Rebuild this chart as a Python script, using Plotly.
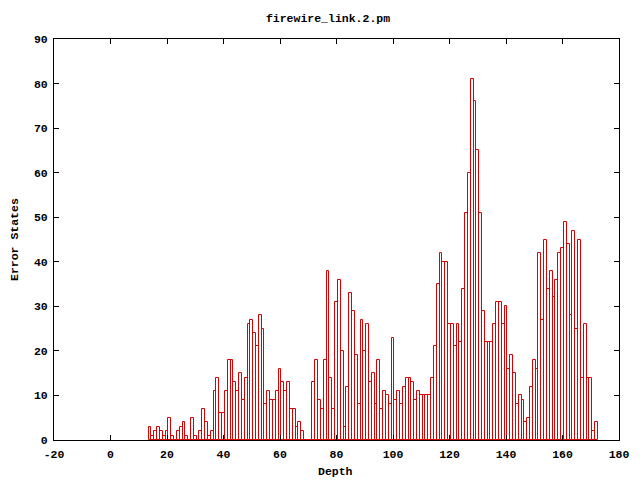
import plotly.graph_objects as go

title_text = "firewire_link.2.pm"
x_label = "Depth"
y_label = "Error States"

depth = list(range(14, 173))
error_states = [
    3, 1, 2, 3, 2, 1, 2, 5, 1, 0, 2, 3, 4, 1, 0, 5, 1, 0, 2, 7,          # 14-33
    4, 1, 2, 11, 14, 6, 6, 11, 18, 18, 13, 11, 15, 9, 14, 26, 27, 24, 21, 28,  # 34-53
    25, 8, 11, 9, 9, 11, 16, 13, 11, 13, 7, 7, 3, 4, 2, 0, 0, 0, 13, 18,     # 54-73
    9, 7, 18, 38, 14, 7, 31, 36, 20, 3, 12, 33, 29, 19, 8, 27, 20, 26, 13, 15,  # 74-93
    8, 18, 7, 11, 10, 8, 23, 9, 11, 8, 12, 14, 14, 13, 9, 11, 10, 10, 10, 10,   # 94-113
    14, 21, 35, 42, 40, 40, 26, 26, 21, 26, 22, 34, 51, 60, 81, 76, 65, 51, 29, 22,  # 114-133
    22, 22, 26, 31, 31, 26, 30, 16, 19, 15, 8, 10, 9, 4, 5, 12, 18, 16, 42, 27,  # 134-153
    45, 34, 38, 32, 36, 42, 43, 49, 44, 28, 47, 25, 45, 14, 26, 14, 14, 2, 4,   # 154-172
]

x_ticks = [-20, 0, 20, 40, 60, 80, 100, 120, 140, 160, 180]
y_ticks = [0, 10, 20, 30, 40, 50, 60, 70, 80, 90]

font_family = "Liberation Mono"
text_font = dict(family=font_family, size=11.5, color="black", weight="bold")

fig = go.Figure()
fig.add_trace(go.Bar(
    x=depth,
    y=error_states,
    width=1,
    marker=dict(color="rgba(255,255,255,0)", line=dict(color="#dd0000", width=1)),
    showlegend=False,
    hoverinfo="skip",
))

axis_common = dict(
    showline=True,
    linecolor="black",
    linewidth=1,
    mirror="ticks",
    ticks="inside",
    ticklen=5,
    tickcolor="black",
    tickwidth=1,
    showgrid=False,
    zeroline=False,
    automargin=False,
    tickfont=text_font,
)

fig.update_layout(
    width=640,
    height=480,
    paper_bgcolor="white",
    plot_bgcolor="white",
    margin=dict(l=54, r=21, t=39, b=40, autoexpand=False),
    bargap=0,
    title=dict(
        text=title_text,
        x=0.5125,
        xanchor="center",
        y=1 - 18 / 480,
        yanchor="middle",
        font=text_font,
    ),
    xaxis=dict(
        range=[-20, 180],
        tickvals=x_ticks,
        ticktext=[str(v) for v in x_ticks],
        ticklabelstandoff=3,
        **axis_common,
    ),
    yaxis=dict(
        range=[0, 90],
        tickvals=y_ticks,
        ticktext=[str(v) for v in y_ticks],
        ticklabelstandoff=3,
        **axis_common,
    ),
    annotations=[
        dict(text=x_label, xref="paper", yref="paper", x=0.499, y=-0.0798,
             xanchor="center", yanchor="middle", showarrow=False, font=text_font),
        dict(text=y_label, xref="paper", yref="paper", x=-0.069, y=0.4988,
             xanchor="center", yanchor="middle", textangle=-90, showarrow=False,
             font=text_font),
    ],
)

fig.write_html(
    "out.html",
    config={"displayModeBar": False},
    post_script="document.body.style.margin='0px';document.body.style.overflow='hidden';",
)
